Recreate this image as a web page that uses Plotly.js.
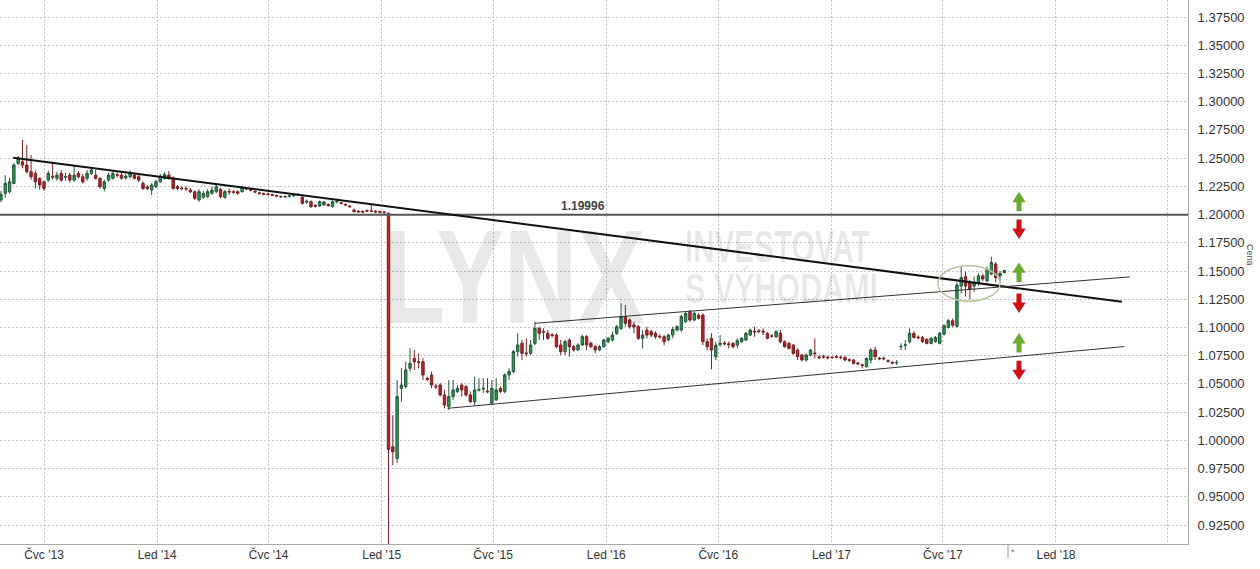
<!DOCTYPE html>
<html>
<head>
<meta charset="utf-8">
<script src="https://cdn.plot.ly/plotly-3.0.1.min.js"></script>
<style>
html,body{margin:0;padding:0;background:#fff;}
#chart{width:1260px;height:569px;}
</style>
</head>
<body>
<div id="chart"></div>
<script>
// ---- Weekly EUR/CHF candles (first week starts 2013-04-22) ----
const firstWeek = '2013-04-22';
const open = [
1.2130,1.2188,1.2202,1.2276,1.2454,1.2468,1.2439,1.2380,1.2365,1.2321,
1.2291,1.2306,1.2340,1.2321,1.2365,1.2330,1.2350,1.2306,1.2365,1.2335,
1.2321,1.2365,1.2350,1.2321,1.2232,1.2306,1.2321,1.2352,1.2350,1.2325,
1.2335,1.2350,1.2335,1.2276,1.2245,1.2217,1.2247,1.2291,1.2321,1.2350,
1.2321,1.2247,1.2235,1.2232,1.2217,1.2202,1.2129,1.2153,1.2158,1.2188,
1.2203,1.2223,1.2153,1.2205,1.2203,1.2203,1.2203,1.2235,1.2222,1.2206,
1.2193,1.2186,1.2182,1.2176,1.2169,1.2160,1.2155,1.2160,1.2168,1.2180,
1.2153,1.2110,1.2115,1.2080,1.2076,1.2085,1.2090,1.2070,1.2112,1.2105,
1.2090,1.2076,1.2041,1.2030,1.2028,1.2036,1.2032,1.2030,1.2027,1.2024,
1.2010,0.9944,0.9840,1.0460,1.0476,1.0638,1.0727,1.0697,1.0697,1.0550,
1.0579,1.0480,1.0490,1.0402,1.0299,1.0388,1.0432,1.0490,1.0476,1.0402,
1.0343,1.0445,1.0455,1.0437,1.0328,1.0358,1.0461,1.0432,1.0579,1.0609,
1.0786,1.0860,1.0775,1.0771,1.0860,1.0992,1.0965,1.0948,1.0935,1.0933,
1.0845,1.0786,1.0889,1.0830,1.0801,1.0845,1.0919,1.0860,1.0830,1.0801,
1.0830,1.0874,1.0889,1.0948,1.0992,1.1096,1.1066,1.1022,1.1007,1.0904,
1.0977,1.0963,1.0948,1.0922,1.0918,1.0889,1.0933,1.0977,1.0977,1.1051,
1.1140,1.1066,1.1110,1.1110,1.0874,1.0904,1.0741,1.0850,1.0862,1.0855,
1.0859,1.0844,1.0874,1.0889,1.0933,1.0966,1.0971,1.0966,1.0948,1.0925,
1.0918,1.0948,1.0874,1.0859,1.0844,1.0800,1.0756,1.0712,1.0756,1.0774,
1.0738,1.0744,1.0738,1.0735,1.0744,1.0737,1.0735,1.0715,1.0712,1.0685,
1.0670,1.0652,1.0712,1.0800,1.0729,1.0729,1.0706,1.0691,1.0688,1.0828,
1.0842,1.0874,1.0948,1.0915,1.0912,1.0895,1.0859,1.0874,1.0860,1.0940,
1.1000,1.1060,1.1010,1.1367,1.1450,1.1396,1.1367,1.1397,1.1457,1.1412,
1.1472,1.1562,1.1457,1.1487
];
const high = [
1.2210,1.2350,1.2326,1.2454,1.2520,1.2660,1.2616,1.2528,1.2390,1.2330,
1.2300,1.2390,1.2468,1.2380,1.2395,1.2370,1.2370,1.2439,1.2385,1.2360,
1.2395,1.2420,1.2395,1.2330,1.2310,1.2370,1.2390,1.2380,1.2370,1.2360,
1.2390,1.2370,1.2350,1.2295,1.2260,1.2280,1.2310,1.2360,1.2378,1.2385,
1.2340,1.2262,1.2250,1.2250,1.2235,1.2215,1.2225,1.2210,1.2225,1.2247,
1.2262,1.2235,1.2220,1.2232,1.2215,1.2215,1.2255,1.2245,1.2230,1.2215,
1.2203,1.2195,1.2192,1.2186,1.2178,1.2170,1.2170,1.2176,1.2185,1.2190,
1.2165,1.2135,1.2125,1.2092,1.2125,1.2122,1.2100,1.2125,1.2140,1.2115,
1.2100,1.2085,1.2055,1.2040,1.2036,1.2045,1.2095,1.2040,1.2035,1.2032,
1.2020,1.0224,1.0535,1.0640,1.0697,1.0815,1.0801,1.0771,1.0727,1.0565,
1.0609,1.0500,1.0506,1.0447,1.0535,1.0535,1.0490,1.0506,1.0490,1.0432,
1.0565,1.0550,1.0550,1.0550,1.0535,1.0550,1.0480,1.0594,1.0638,1.0801,
1.0948,1.0889,1.0904,1.0889,1.1051,1.1007,1.0992,1.0978,1.0950,1.0948,
1.0889,1.0889,1.0904,1.0845,1.0860,1.0935,1.0933,1.0875,1.0845,1.0845,
1.0900,1.0915,1.0963,1.1022,1.1214,1.1199,1.1080,1.1051,1.1022,1.0977,
1.1007,1.0980,1.0965,1.0940,1.0933,1.0945,1.1007,1.1020,1.1110,1.1135,
1.1155,1.1140,1.1125,1.1125,1.0904,1.0948,1.0874,1.0933,1.0880,1.0874,
1.0870,1.0904,1.0915,1.0960,1.0990,1.1007,1.0985,1.0992,1.0960,1.0940,
1.0975,1.0977,1.0885,1.0870,1.0855,1.0815,1.0765,1.0771,1.0810,1.0904,
1.0755,1.0760,1.0750,1.0750,1.0755,1.0750,1.0745,1.0725,1.0722,1.0695,
1.0680,1.0735,1.0815,1.0830,1.0740,1.0742,1.0718,1.0700,1.0712,1.0859,
1.0889,1.0992,1.0965,1.0930,1.0925,1.0905,1.0915,1.0925,1.0960,1.1030,
1.1075,1.1080,1.1400,1.1535,1.1494,1.1420,1.1450,1.1480,1.1475,1.1540,
1.1627,1.1580,1.1502,1.1512
];
const low = [
1.2110,1.2150,1.2188,1.2268,1.2439,1.2410,1.2365,1.2310,1.2232,1.2220,
1.2210,1.2290,1.2310,1.2300,1.2290,1.2300,1.2285,1.2290,1.2320,1.2275,
1.2300,1.2350,1.2310,1.2230,1.2205,1.2290,1.2310,1.2330,1.2310,1.2310,
1.2320,1.2310,1.2290,1.2217,1.2217,1.2173,1.2235,1.2280,1.2310,1.2310,
1.2220,1.2217,1.2215,1.2210,1.2190,1.2130,1.2115,1.2140,1.2150,1.2175,
1.2190,1.2145,1.2140,1.2175,1.2185,1.2175,1.2195,1.2215,1.2205,1.2188,
1.2178,1.2172,1.2170,1.2163,1.2157,1.2150,1.2148,1.2152,1.2153,1.2168,
1.2090,1.2095,1.2060,1.2062,1.2068,1.2078,1.2070,1.2062,1.2100,1.2090,
1.2076,1.2062,1.2018,1.2015,1.2013,1.2023,1.2022,1.2012,1.2010,1.2008,
0.8500,0.9780,0.9800,1.0340,1.0460,1.0609,1.0624,1.0638,1.0535,1.0525,
1.0461,1.0455,1.0388,1.0284,1.0269,1.0358,1.0420,1.0388,1.0388,1.0328,
1.0313,1.0432,1.0417,1.0417,1.0313,1.0350,1.0420,1.0417,1.0535,1.0594,
1.0742,1.0712,1.0742,1.0756,1.0845,1.0889,1.0889,1.0889,1.0910,1.0815,
1.0756,1.0756,1.0742,1.0786,1.0790,1.0835,1.0801,1.0815,1.0771,1.0790,
1.0820,1.0860,1.0874,1.0933,1.0978,1.1007,1.0990,1.0950,1.0889,1.0815,
1.0904,1.0915,1.0900,1.0900,1.0844,1.0880,1.0904,1.0965,1.0963,1.1040,
1.1051,1.1055,1.1070,1.0844,1.0800,1.0630,1.0712,1.0830,1.0840,1.0815,
1.0815,1.0815,1.0865,1.0880,1.0925,1.0918,1.0950,1.0933,1.0895,1.0910,
1.0905,1.0859,1.0820,1.0805,1.0760,1.0712,1.0700,1.0697,1.0745,1.0726,
1.0720,1.0725,1.0718,1.0720,1.0725,1.0718,1.0700,1.0695,1.0672,1.0665,
1.0638,1.0645,1.0682,1.0712,1.0710,1.0710,1.0690,1.0675,1.0667,1.0800,
1.0800,1.0859,1.0900,1.0895,1.0865,1.0850,1.0850,1.0865,1.0850,1.0930,
1.0990,1.1005,1.1000,1.1300,1.1273,1.1250,1.1317,1.1370,1.1410,1.1400,
1.1465,1.1400,1.1395,1.1480
];
const close = [
1.2180,1.2276,1.2291,1.2439,1.2498,1.2439,1.2380,1.2335,1.2291,1.2262,
1.2232,1.2365,1.2332,1.2350,1.2306,1.2338,1.2306,1.2350,1.2335,1.2291,
1.2365,1.2395,1.2321,1.2247,1.2291,1.2350,1.2365,1.2348,1.2321,1.2340,
1.2365,1.2321,1.2306,1.2232,1.2232,1.2262,1.2291,1.2340,1.2355,1.2321,
1.2232,1.2232,1.2230,1.2228,1.2202,1.2144,1.2203,1.2188,1.2203,1.2217,
1.2247,1.2158,1.2203,1.2200,1.2198,1.2188,1.2241,1.2229,1.2215,1.2200,
1.2186,1.2180,1.2177,1.2171,1.2164,1.2158,1.2160,1.2166,1.2174,1.2176,
1.2100,1.2118,1.2070,1.2074,1.2115,1.2112,1.2079,1.2115,1.2117,1.2099,
1.2085,1.2070,1.2026,1.2024,1.2022,1.2031,1.2031,1.2024,1.2021,1.2018,
0.9920,0.9900,1.0388,1.0490,1.0624,1.0683,1.0697,1.0690,1.0579,1.0540,
1.0490,1.0474,1.0402,1.0313,1.0388,1.0447,1.0461,1.0447,1.0402,1.0343,
1.0447,1.0450,1.0462,1.0430,1.0461,1.0447,1.0432,1.0579,1.0609,1.0786,
1.0845,1.0771,1.0768,1.0845,1.0992,1.0948,1.0960,1.0904,1.0930,1.0830,
1.0786,1.0874,1.0830,1.0801,1.0845,1.0919,1.0845,1.0830,1.0801,1.0830,
1.0889,1.0904,1.0933,1.1007,1.1096,1.1037,1.1007,1.1005,1.0904,1.0933,
1.0933,1.0933,1.0918,1.0916,1.0874,1.0933,1.0983,1.1007,1.1096,1.1125,
1.1066,1.1125,1.1081,1.0874,1.0830,1.0800,1.0844,1.0859,1.0856,1.0849,
1.0830,1.0883,1.0904,1.0948,1.0977,1.0960,1.0965,1.0960,1.0904,1.0923,
1.0963,1.0874,1.0830,1.0815,1.0771,1.0741,1.0712,1.0756,1.0800,1.0768,
1.0732,1.0738,1.0732,1.0734,1.0738,1.0733,1.0712,1.0709,1.0682,1.0679,
1.0664,1.0726,1.0800,1.0741,1.0723,1.0723,1.0700,1.0685,1.0689,1.0832,
1.0846,1.0948,1.0912,1.0909,1.0874,1.0859,1.0904,1.0912,1.0950,1.1015,
1.1060,1.1020,1.1376,1.1442,1.1367,1.1338,1.1397,1.1457,1.1430,1.1518,
1.1576,1.1442,1.1480,1.1505
];

// ---- Axes ----
const xTickDates  = ['2013-07-01','2014-01-01','2014-07-01','2015-01-01','2015-07-01','2016-01-01','2016-07-01','2017-01-01','2017-07-01','2018-01-01','2018-07-01'];
const xTickLabels = ["Čvc '13","Led '14","Čvc '14","Led '15","Čvc '15","Led '16","Čvc '16","Led '17","Čvc '17","Led '18",""];
const xRange = ['2013-04-20 11:30','2018-08-03 14:00'];
const yTicks = [0.925,0.95,0.975,1.0,1.025,1.05,1.075,1.1,1.125,1.15,1.175,1.2,1.225,1.25,1.275,1.3,1.325,1.35,1.375];
const yRange = [0.9082, 1.3901];

// ---- Drawings ----
const levelValue = 1.19996;
const levelLabel = '1.19996';
const trendX = ['2013-05-12','2018-04-18'];
const trendY = [1.2503, 1.1227];
const upperChX = ['2015-09-07','2018-05-01'];
const upperChY = [1.1037, 1.1448];
const lowerChX = ['2015-04-18','2018-04-22'];
const lowerChY = [1.0284, 1.0831];
const ellipseX = ['2017-06-23','2017-10-02'];
const ellipseY = [1.1233, 1.1546];
const upArrowTips = [1.2202, 1.1576, 1.0951];
const downArrowTips = [1.1784, 1.1129, 1.0534];
const watermarkTexts = ['LYNX', 'INVESTOVAT', 'S VÝHODAMI'];

// weekly dates
const dates = open.map((_, i) => new Date(Date.UTC(2013, 3, 22) + i * 7 * 864e5).toISOString().slice(0, 10));

const plotW = 1188, plotH = 544;
const arrowX = 1019 / plotW;
const headHW = 6.7 / plotW, shaftHW = 2.5 / plotW;
const arrowLen = 0.0172, headLen = 0.0092;

function arrowPath(t, dir) {
  const h = t - dir * headLen, b = t - dir * arrowLen;
  return `M${arrowX},${t} L${arrowX + headHW},${h} L${arrowX + shaftHW},${h} L${arrowX + shaftHW},${b} L${arrowX - shaftHW},${b} L${arrowX - shaftHW},${h} L${arrowX - headHW},${h} Z`;
}

const shapes = [
  {type:'line', xref:'paper', yref:'y', x0:0, x1:1, y0:levelValue, y1:levelValue, line:{color:'#555555', width:2}},
  {type:'line', xref:'x', yref:'y', x0:trendX[0], x1:trendX[1], y0:trendY[0], y1:trendY[1], line:{color:'#111111', width:2}},
  {type:'line', xref:'x', yref:'y', x0:upperChX[0], x1:upperChX[1], y0:upperChY[0], y1:upperChY[1], line:{color:'#333333', width:1}},
  {type:'line', xref:'x', yref:'y', x0:lowerChX[0], x1:lowerChX[1], y0:lowerChY[0], y1:lowerChY[1], line:{color:'#333333', width:1}},
  {type:'circle', xref:'x', yref:'y', x0:ellipseX[0], x1:ellipseX[1], y0:ellipseY[0], y1:ellipseY[1], line:{color:'#b5c7a0', width:1.5}},
  {type:'line', xref:'paper', yref:'paper', x0:1008/plotW, x1:1008/plotW, y0:0, y1:-0.026, line:{color:'#999999', width:1}}
];
upArrowTips.forEach(t => shapes.push({type:'path', xref:'paper', yref:'y', path:arrowPath(t, 1), fillcolor:'#6aaa30', line:{width:0}}));
downArrowTips.forEach(t => shapes.push({type:'path', xref:'paper', yref:'y', path:arrowPath(t, -1), fillcolor:'#cf1018', line:{width:0}}));

const wm = 'rgba(0,0,0,0.09)';
const wmFont = '"Liberation Sans","Arial",sans-serif';
// watermark geometry: pixel centre x, centre y, font size, target width, vertical stretch
const wmGeom = [[514, 276, 98, 262, 1.37], [777, 247, 29, 185, 1.54], [781, 286, 30.5, 193, 1.42]];
const annotations = watermarkTexts.map((t, k) => ({
  xref:'paper', yref:'paper', x:wmGeom[k][0]/plotW, y:1 - wmGeom[k][1]/plotH, text:t, showarrow:false,
  font:{family:wmFont, size:wmGeom[k][2], color:wm, weight:'bold'}, xanchor:'center', yanchor:'middle'
}));
annotations.push(
  {xref:'paper', yref:'y', x:583/plotW, y:levelValue, yshift:9, text:levelLabel, showarrow:false, font:{family:'Liberation Sans, Arial, sans-serif', size:12, color:'#444444', weight:'bold'}, xanchor:'center', yanchor:'middle'},
  {xref:'paper', yref:'paper', x:1250/plotW, y:1-255/plotH, text:'Cena', textangle:90, showarrow:false, font:{family:'Liberation Sans, Arial, sans-serif', size:9, color:'#444444'}, xanchor:'center', yanchor:'middle'},
  {xref:'paper', yref:'paper', x:1013/plotW, y:-0.014, text:'*', showarrow:false, font:{family:'Liberation Sans, Arial, sans-serif', size:9, color:'#777777'}, xanchor:'center', yanchor:'middle'}
);

const trace = {
  type:'candlestick',
  x: dates, open: open, high: high, low: low, close: close,
  increasing:{fillcolor:'#2b9a55', line:{color:'#24553a', width:1}},
  decreasing:{fillcolor:'#b8202a', line:{color:'#7a2024', width:1}},
  whiskerwidth:0,
  hoverinfo:'none'
};

const layout = {
  width:1260, height:569,
  margin:{l:0, r:72, t:0, b:25, pad:0},
  paper_bgcolor:'#ffffff', plot_bgcolor:'#ffffff',
  showlegend:false,
  boxgap:0.2,
  font:{family:'Liberation Sans, Arial, sans-serif', color:'#333333'},
  xaxis:{
    type:'date', range:xRange, tickmode:'array', tickvals:xTickDates, ticktext:xTickLabels,
    showgrid:true, gridcolor:'#c4c4c4', griddash:'2px,2px', gridwidth:1,
    showline:true, linecolor:'#a8a8a8', linewidth:1, ticks:'', zeroline:false,
    tickfont:{size:12, color:'#333333'},
    rangeslider:{visible:false}, fixedrange:true
  },
  yaxis:{
    side:'right', range:yRange, tickmode:'array', tickvals:yTicks, tickformat:'.5f',
    showgrid:true, gridcolor:'#c4c4c4', griddash:'2px,2px', gridwidth:1,
    showline:true, linecolor:'#a8a8a8', linewidth:1, ticks:'', zeroline:false,
    tickfont:{size:13, color:'#333333'}, ticklabelstandoff:6, fixedrange:true
  },
  shapes: shapes,
  annotations: annotations
};

Plotly.newPlot('chart', [trace], layout, {displayModeBar:false, staticPlot:true}).then(gd => {
  // tall condensed watermark lettering: fix width and stretch vertically about the centre
  gd.querySelectorAll('.annotation-text').forEach(el => {
    const k = watermarkTexts.indexOf(el.textContent);
    if (k >= 0) {
      el.setAttribute('textLength', wmGeom[k][3]);
      el.setAttribute('lengthAdjust', 'spacingAndGlyphs');
      const bb = el.getBBox();
      const cy = bb.y + bb.height / 2, s = wmGeom[k][4];
      el.setAttribute('transform', `translate(0,${cy * (1 - s)}) scale(1,${s})`);
    }
  });
});
</script>
</body>
</html>
